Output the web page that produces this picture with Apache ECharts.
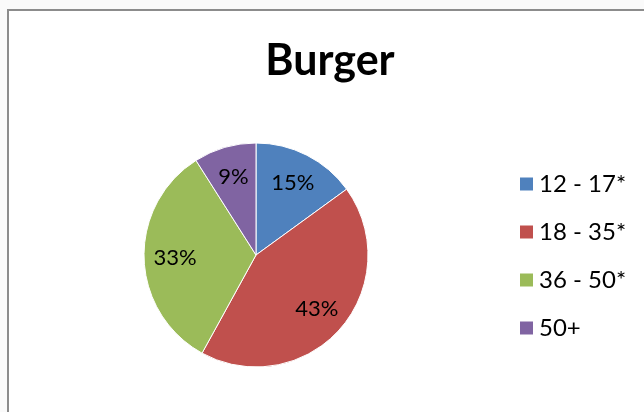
<!DOCTYPE html>
<html><head><meta charset="utf-8">
<script src="https://cdn.jsdelivr.net/npm/echarts@6/dist/echarts.min.js"></script>
<style>html,body{margin:0;padding:0;background:#fafafa;}#c{width:644px;height:412px;}</style>
</head><body><div id="c"></div>
<script>
const title = 'Burger';
const categories = ['12 - 17*', '18 - 35*', '36 - 50*', '50+'];
const values = [15, 43, 33, 9];
const colors = ['#4F81BD', '#C0504D', '#9BBB59', '#8064A2'];

const chart = echarts.init(document.getElementById('c'));
const font = 'Lato, "Open Sans", sans-serif';
chart.setOption({
  animation: false,
  color: colors,
  graphic: [{type:'rect', shape:{x:8, y:10, width:700, height:500}, style:{fill:'#fff', stroke:'#8c8c8c', lineWidth:2}, z:-10}],
  title: {text: title, left: 330, top: 40, textAlign: 'center', padding: 0,
    textStyle: {fontFamily: font, fontSize: 43, fontWeight: 'bold', color: '#000'}},
  legend: {orient:'vertical', left: 518, top: 172, padding: 0, itemWidth: 15, itemHeight: 15, itemGap: 24,
    icon: 'rect', data: categories,
    textStyle: {fontFamily: font, fontSize: 24, color: '#000'}},
  series: [{
    type: 'pie', center: [256, 255], radius: [0, 112], startAngle: 90, clockwise: true,
    silent: true,
    itemStyle: {borderColor: '#fff', borderWidth: 1},
    label: {show: false}, labelLine: {show: false},
    data: categories.map((n, i) => ({name: n, value: values[i]}))
  }, {
    type: 'pie', center: [256, 255], radius: [0, 156], startAngle: 90, clockwise: true,
    silent: true, legendHoverLink: false,
    itemStyle: {color: 'rgba(0,0,0,0)', borderWidth: 0},
    label: {show: true, position: 'inside', formatter: p => p.value + '%',
      fontFamily: font, fontSize: 22, color: '#000'},
    labelLine: {show: false},
    data: categories.map((n, i) => ({name: n + ' ', value: values[i]}))
  }]
});
</script></body></html>
